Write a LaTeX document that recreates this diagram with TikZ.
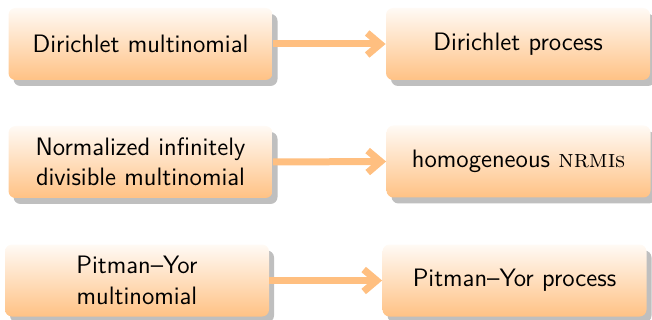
\documentclass[tikz,border=0pt]{standalone}
\usetikzlibrary{shadows,arrows.meta}
\begin{document}
\begin{tikzpicture}[x=0.5pt,y=-0.5pt,
  box/.style={rounded corners=3.5pt, top color=orange!4, bottom color=orange!48,
    draw=none, align=center, font=\sffamily\fontsize{12.6}{15.2}\selectfont, inner sep=0pt,
    minimum width=132pt, minimum height=36pt,
    drop shadow={shadow xshift=2.5pt, shadow yshift=-3pt, fill=black!25, opacity=1}},
  conn/.style={draw=orange!50, line width=3.5pt, -{Straight Barb[length=6.5pt,width=11pt]}}]
\useasboundingbox (0,0) rectangle (652,320);
\node[box] (A) at (140.5,44) {Dirichlet multinomial};
\node[box] (B) at (518,44) {Dirichlet process};
\node[box] (C) at (140.5,162) {Normalized infinitely\\divisible multinomial};
\node[box] (D) at (518.5,161.5) {homogeneous {\rmfamily\textsc{nrmi}s}};
\node[box] (E) at (137,280.5) {Pitman--Yor\\multinomial};
\node[box] (F) at (514.5,280.5) {Pitman--Yor process};
\draw[conn] (A.east) -- (B.west);
\draw[conn] (C.east) -- (D.west);
\draw[conn] (E.east) -- (F.west);
\end{tikzpicture}
\end{document}
